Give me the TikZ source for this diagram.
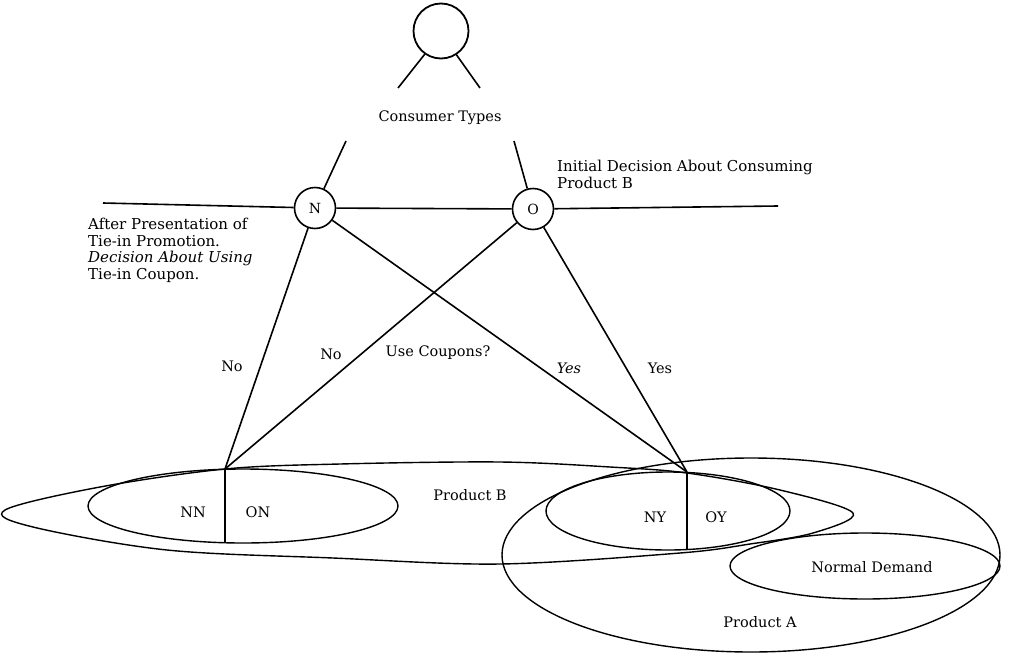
\documentclass[tikz,border=0pt]{standalone}
\usepackage{fontspec}
\setmainfont{DejaVu Serif}
\begin{document}
\begin{tikzpicture}[x=1pt,y=-1pt,
  ln/.style={line width=1.6pt},
  shp/.style={line width=1.4pt},
  dec/.style={circle,draw,line width=1.6pt,minimum size=41pt,inner sep=0pt,font=\fontsize{14}{16}\selectfont},
  lbl/.style={inner sep=0pt,font=\fontsize{14.5}{17}\selectfont},
  blk/.style={inner sep=0pt,align=left,font=\fontsize{15}{16.5}\selectfont}]
\useasboundingbox (0,0) rectangle (1017,656);
% top circle
\node[circle,draw,line width=1.8pt,minimum size=55pt,inner sep=0pt] (top) at (441,31) {};
\coordinate (tl) at (398,88);
\coordinate (tr) at (480,88);
\draw[ln] (top.-125) -- (tl);
\draw[ln] (top.-57) -- (tr);
\node[lbl] (ct) at (440,118) {Consumer Types};
% decision nodes
\node[dec] (N) at (315,208) {N};
\node[dec] (O) at (533,209) {O};
\coordinate (ct1) at (346,141);
\coordinate (ct2) at (514,141);
\draw[ln] (ct1) -- (N);
\draw[ln] (ct2) -- (O);
\coordinate (hl) at (103,203);
\coordinate (hr) at (778,206);
\draw[ln] (hl) -- (N) -- (O) -- (hr);
\node[blk,anchor=north west] (init) at (557,160) {Initial Decision About Consuming\\Product B};
\node[blk,anchor=north west] (after) at (88,218) {After Presentation of\\Tie-in Promotion.\\\textit{Decision About Using}\\Tie-in Coupon.};
% junctions
\coordinate (jN) at (225,469);
\coordinate (jY) at (687,472);
\draw[ln] (N) -- (jN);
\draw[ln] (O) -- (jN);
\draw[ln] (N) -- (jY);
\draw[ln] (O) -- (jY);
\node[lbl] (no1) at (232,366) {No};
\node[lbl] (no2) at (331,354) {No};
\node[lbl] (uc) at (438,353) {Use Coupons?};
\node[lbl] (yes1) at (569,368) {\textit{Yes}};
\node[lbl] (yes2) at (660,368) {Yes};
% Product B region
\draw[shp] plot[smooth cycle,tension=0.55] coordinates {
  (5,510) (100,487) (225,469) (340,464) (500,462) (610,467) (687,473)
  (780,490) (853,513) (813,533) (750,544) (680,553) (500,564)
  (333,558) (167,550) (33,527)};
\node[lbl] (pb) at (470,495) {Product B};
% NN / ON
\draw[shp] (243,506) ellipse (155 and 37);
\draw[ln] (jN) -- (225,543);
\node[lbl] (nn) at (193,512) {NN};
\node[lbl] (on) at (258,512) {ON};
% Product A
\draw[shp] (751,555) ellipse (249 and 97);
\node[lbl] (pa) at (760,622) {Product A};
% NY / OY
\draw[shp] (668,511) ellipse (122 and 39);
\draw[ln] (jY) -- (687,550);
\node[lbl] (ny) at (655,517) {NY};
\node[lbl] (oy) at (716,517) {OY};
% Normal demand
\draw[shp] (865,566) ellipse (135 and 33);
\node[lbl] (nd) at (872,567) {Normal Demand};
\end{tikzpicture}
\end{document}
